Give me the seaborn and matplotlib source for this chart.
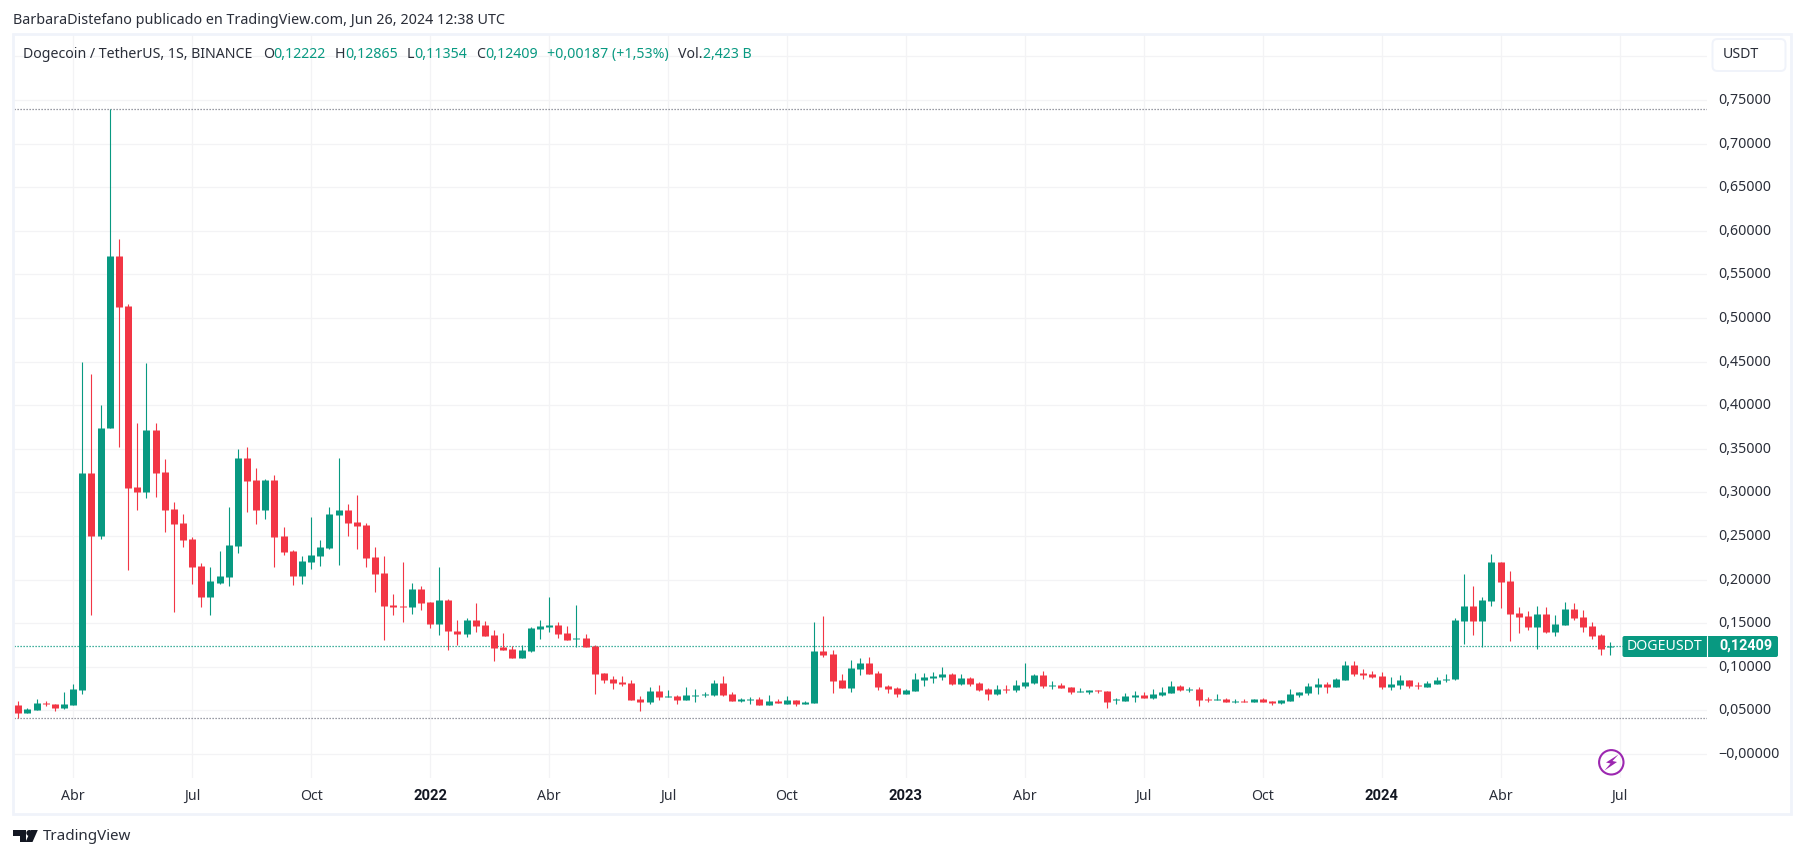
import matplotlib
matplotlib.use("Agg")
import matplotlib.pyplot as plt
from matplotlib.patches import Rectangle, FancyBboxPatch, Circle, Polygon
from matplotlib.transforms import ScaledTranslation
import seaborn as sns
import pandas as pd

opens = [.0562,.0470,.0505,.0589,.0573,.0528,.0562,.0734,.3222,.25,
 .3738,.5711,.5138,.3062,.3005,.3716,.3234,.2810,.2649,.2466,
 .2156,.18,.1961,.2030,.2385,.3394,.3142,.2798,.3142,.25,
 .2328,.2041,.2202,.2271,.2362,.2741,.2798,.2661,.2626,.2259,
 .2076,.1709,.1697,.1686,.1892,.1743,.1491,.1766,.1411,.1376,
 .1537,.1479,.1365,.1227,.1204,.1101,.1181,.1433,.1456,.1479,
 .1388,.1319,.1330,.1239,.0929,.0860,.0826,.0814,.0631,.0596,
 .0722,.0654,.0665,.0619,.0665,.0680,.0677,.0814,.0688,.0608,
 .0619,.0631,.0562,.0608,.0573,.0619,.0573,.0585,.1181,.1147,
 .0849,.0757,.0975,.1044,.0929,.0780,.0757,.0688,.0722,.0849,
 .0872,.0883,.0917,.0803,.0872,.0814,.0745,.0688,.0745,.0734,
 .0780,.0814,.0906,.0780,.0791,.0768,.0711,.0711,.0734,.0722,
 .0615,.0608,.0654,.0677,.0642,.0677,.0700,.0780,.0734,.0745,
 .0631,.0619,.0631,.0596,.0608,.0596,.0631,.0608,.0585,.0608,
 .0677,.0700,.0768,.0803,.0768,.0849,.1021,.0929,.0917,.0895,
 .0768,.0791,.0849,.0791,.0768,.0803,.0849,.0856,.1525,.1697,
 .1525,.1755,.2202,.1984,.1617,.1583,.1456,.1606,.1399,.1479,
 .1663,.1571,.1468,.1365,.12222]
closes = [.0470,.0516,.0585,.0577,.0528,.0573,.0745,.3222,.25,.3738,
 .5711,.5126,.3050,.3005,.3716,.3222,.2798,.2638,.2454,.2144,
 .18,.1984,.2041,.2397,.3394,.3131,.2798,.3142,.2489,.2317,
 .2041,.2213,.2282,.2374,.2752,.2798,.2649,.2615,.2248,.2064,
 .1697,.1686,.1686,.1892,.1732,.1491,.1766,.1411,.1376,.1537,
 .1468,.1353,.1216,.1193,.1101,.1193,.1445,.1468,.1479,.1376,
 .1307,.1330,.1227,.0917,.0849,.0814,.0803,.0619,.0596,.0722,
 .0654,.0665,.0619,.0677,.0677,.0692,.0814,.0677,.0608,.0631,
 .0631,.0562,.0608,.0585,.0619,.0573,.0596,.1181,.1135,.0837,
 .0757,.0986,.1044,.0917,.0768,.0745,.0688,.0734,.0860,.0883,
 .0894,.0917,.0803,.0872,.0803,.0734,.0688,.0745,.0734,.0791,
 .0826,.0906,.0780,.0791,.0757,.0711,.0722,.0734,.0722,.0596,
 .0627,.0665,.0677,.0642,.0688,.0711,.0780,.0734,.0745,.0619,
 .0619,.0631,.0596,.0608,.0596,.0631,.0596,.0585,.0619,.0688,
 .0711,.0780,.0803,.0768,.0860,.1021,.0917,.0906,.0883,.0768,
 .0803,.0849,.0780,.0780,.0814,.0849,.0860,.1537,.1697,.1525,
 .1766,.2202,.1972,.1606,.1571,.1456,.1606,.1399,.1491,.1663,
 .1560,.1456,.1353,.1204,.12409]
highs = [.0608,.0524,.0631,.0608,.0573,.0711,.0803,.4495,.4358,.4002,
 .7393,.5906,.5161,.3796,.4484,.3796,.3383,.2890,.2752,.2489,
 .2190,.2144,.2328,.2833,.3498,.3521,.3280,.3154,.3200,.2603,
 .2339,.2271,.2718,.2454,.2833,.3394,.2867,.2970,.2649,.2374,
 .2271,.1835,.2202,.1961,.1927,.1743,.2144,.1778,.1537,.1560,
 .1732,.1525,.1422,.1388,.1239,.1250,.1456,.1537,.18,.1514,
 .1468,.1709,.1376,.1250,.0929,.0894,.0894,.0849,.0665,.0768,
 .0791,.0734,.0677,.0768,.0745,.0711,.0849,.0894,.0711,.0642,
 .0654,.0654,.0677,.0631,.0665,.0619,.0608,.1514,.1583,.1193,
 .0917,.1078,.1101,.1112,.0952,.0791,.0768,.0745,.0929,.0929,
 .0940,.0998,.0929,.0917,.0883,.0826,.0757,.0791,.0791,.0849,
 .1044,.0917,.0952,.0837,.0814,.0768,.0757,.0734,.0734,.0722,
 .0642,.0700,.0722,.0711,.0745,.0768,.0837,.0791,.0768,.0768,
 .0654,.0688,.0642,.0631,.0631,.0631,.0642,.0608,.0619,.0745,
 .0711,.0814,.0872,.0826,.0872,.1067,.1067,.0975,.0952,.0940,
 .0883,.0906,.0849,.0826,.0837,.0887,.0917,.1560,.2064,.1927,
 .18,.2294,.2202,.2099,.1686,.1640,.1697,.1686,.1594,.1743,
 .1732,.1651,.1514,.1376,.12865]
lows = [.0413,.0470,.0505,.0554,.0493,.0516,.0562,.0688,.1594,.2466,
 .3738,.3524,.2110,.2798,.2936,.2947,.2546,.1628,.2374,.1950,
 .1686,.1594,.1950,.1927,.2305,.2775,.2638,.2695,.2144,.2282,
 .1938,.1950,.2122,.2156,.2351,.2167,.25,.2351,.2144,.1858,
 .1307,.1594,.1514,.1606,.1651,.1445,.1365,.1193,.1250,.1342,
 .1399,.1353,.1067,.1193,.1101,.1101,.1170,.1319,.1399,.1330,
 .1307,.1227,.1227,.0688,.0814,.0745,.0780,.0619,.0493,.0573,
 .0619,.0654,.0573,.0619,.0596,.0654,.0665,.0665,.0608,.0596,
 .0573,.0562,.0562,.0585,.0573,.0550,.0573,.0585,.1112,.0700,
 .0757,.0711,.0906,.0917,.0734,.0700,.0654,.0688,.0722,.0780,
 .0814,.0849,.0791,.0791,.0780,.0722,.0619,.0677,.0700,.0711,
 .0757,.0803,.0757,.0745,.0757,.0688,.0711,.0688,.0700,.0528,
 .0573,.0608,.0596,.0642,.0631,.0665,.0700,.0722,.0711,.0550,
 .0596,.0619,.0596,.0585,.0596,.0596,.0596,.0562,.0573,.0608,
 .0654,.0677,.0688,.0700,.0768,.0849,.0894,.0860,.0872,.0745,
 .0734,.0745,.0757,.0745,.0768,.0803,.0826,.0844,.1261,.1365,
 .1227,.1697,.1674,.1296,.1388,.1422,.1204,.1388,.1353,.1479,
 .1537,.1399,.1319,.1135,.11354]

x_ticks = [6, 19, 32, 45, 58, 71, 84, 97, 110, 123, 136, 149, 162, 175]
x_labels = ["Abr", "Jul", "Oct", "2022", "Abr", "Jul", "Oct", "2023", "Abr", "Jul", "Oct", "2024", "Abr", "Jul"]
y_ticks = [-0.0, .05, .10, .15, .20, .25, .30, .35, .40, .45, .50, .55, .60, .65, .70, .75, .80]
y_labels = ["\u22120,00000", "0,05000", "0,10000", "0,15000", "0,20000", "0,25000", "0,30000", "0,35000",
            "0,40000", "0,45000", "0,50000", "0,55000", "0,60000", "0,65000", "0,70000", "0,75000", ""]
last_price = 0.12409

GREEN, RED = "#089981", "#f23645"
TEXT, FRAME, GRID = "#2a2e39", "#f0f3fa", "#f3f3f5"
W, H = 1805, 858

sns.set_theme(style="white")
plt.rcParams["font.family"] = ["Noto Sans", "DejaVu Sans"]

wick_rows, body_rows = [], []
for i, (o, h, l, c) in enumerate(zip(opens, highs, lows, closes)):
    d = "up" if c >= o else "down"
    wick_rows += [(i, h, d), (i, l, d)]
    body_rows += [(i, o, d), (i, c, d)]
wicks = pd.DataFrame(wick_rows, columns=["bar", "price", "direction"])
bodies = pd.DataFrame(body_rows, columns=["bar", "price", "direction"])
pal = {"up": GREEN, "down": RED}

fig = plt.figure(figsize=(W / 100, H / 100), dpi=100, facecolor="white")
L, R, T, B = 14, 1707, 34, 778
ax = fig.add_axes([L / W, 1 - B / H, (R - L) / W, (B - T) / H])
ax.set_facecolor("white")
for s in ax.spines.values():
    s.set_visible(False)

ax.grid(True, color=GRID, linewidth=0.95, zorder=0)
ax.set_axisbelow(True)

for val, col in ((max(highs), "#787b86"), (min(lows), "#787b86"), (last_price, GREEN)):
    ax.axhline(val, color=col, linewidth=0.9, linestyle=(0, (1, 1.4)), dash_capstyle="butt", zorder=1)

sns.lineplot(data=wicks, x="bar", y="price", units="bar", hue="direction", palette=pal, estimator=None,
             sort=False, linewidth=0.8, legend=False, ax=ax, solid_capstyle="butt", zorder=3)
sns.lineplot(data=bodies, x="bar", y="price", units="bar", hue="direction", palette=pal, estimator=None,
             sort=False, linewidth=5.04, legend=False, ax=ax, solid_capstyle="butt", zorder=4)

ax.set_xlim((L - 18.3) / 9.15, (R - 18.3) / 9.15)
ax.set_ylim((754 - B) / 872, (754 - T) / 872)
ax.set_xlabel("")
ax.set_ylabel("")
ax.set_xticks(x_ticks)
ax.set_xticklabels(x_labels)
ax.set_yticks(y_ticks)
ax.set_yticklabels(y_labels)
ax.yaxis.tick_right()
ax.tick_params(axis="y", length=0, pad=8, labelsize=10.2, labelcolor=TEXT)
ax.tick_params(axis="x", length=0, pad=8, labelsize=10.2, labelcolor=TEXT)
up_shift = ScaledTranslation(0, 1.5 / 100, fig.dpi_scale_trans)
for t in ax.get_yticklabels():
    t.set_transform(t.get_transform() + up_shift)
for t, s in zip(ax.get_xticklabels(), x_labels):
    if s.startswith("20"):
        t.set_fontfamily("Roboto")
        t.set_fontweight("bold")
        t.set_fontsize(10.6)
        t.set_color("#131722")

# overlay in pixel coordinates for the TradingView furniture
ov = fig.add_axes([0, 0, 1, 1], facecolor="none", zorder=5)
ov.set_xlim(0, W)
ov.set_ylim(H, 0)
ov.axis("off")

ov.add_patch(Rectangle((13, 34), 1778, 779.5, fill=False, edgecolor=FRAME, linewidth=2))


def txt(x, y, s, color=TEXT, size=10.2, **kw):
    ov.text(x, y, s, color=color, fontsize=size, va="center", ha=kw.pop("ha", "left"), **kw)


txt(13, 21, "BarbaraDistefano publicado en TradingView.com, Jun 26, 2024 12:38 UTC", size=10.35)
txt(23, 54.5, "Dogecoin / TetherUS, 1S, BINANCE", size=10.2)
for x, s, col in [(263, "O", TEXT), (273, "0,12222", GREEN), (335, "H", TEXT), (345, "0,12865", GREEN),
                  (407, "L", TEXT), (414.3, "0,11354", GREEN), (476, "C", TEXT), (485.3, "0,12409", GREEN),
                  (547, "+0,00187 (+1,53%)", GREEN), (677.7, "Vol.", TEXT), (703.3, "2,423 B", GREEN)]:
    txt(x, 54.5, s, color=col, size=10.2)

ov.add_patch(FancyBboxPatch((1712.5, 39), 73, 32, boxstyle="round,pad=0,rounding_size=5",
                            facecolor="white", edgecolor=FRAME, linewidth=1.4))
txt(1723, 54, "USDT", size=10.2)

ov.add_patch(FancyBboxPatch((1622.5, 636), 155.5, 21, boxstyle="round,pad=0,rounding_size=2",
                            facecolor=GREEN, edgecolor="none"))
ov.add_line(plt.Line2D([1706.5, 1706.5], [636, 657], color="white", linewidth=0.8))
txt(1627, 646, "DOGEUSDT", color="white", size=10.2)
txt(1719, 646, "0,12409", color="white", size=10.4, fontweight="bold", family="Roboto")

purple = "#9c27b0"
ov.add_patch(Circle((1611.3, 762.3), 12.2, fill=False, edgecolor=purple, linewidth=1.5))
ov.add_patch(Polygon([(1618.5, 754.5), (1606, 762.5), (1610.5, 763.5), (1604.5, 770.5),
                      (1617, 762), (1612.5, 761)], closed=True, facecolor=purple, edgecolor="none"))

logo = "#131722"
ov.add_patch(Polygon([(13.3, 830), (26, 830), (26, 842), (19.5, 842), (19.5, 836), (13.3, 836)],
                     closed=True, facecolor=logo, edgecolor="none"))
ov.add_patch(Circle((29.3, 833), 3, facecolor=logo, edgecolor="none"))
ov.add_patch(Polygon([(31, 830), (37.8, 830), (32.5, 842), (25.5, 842)], closed=True, facecolor=logo, edgecolor="none"))
txt(42.7, 836.5, "TradingView", size=10.9, color="#2a2e39")

fig.savefig("out.png", dpi=100, facecolor="white")
